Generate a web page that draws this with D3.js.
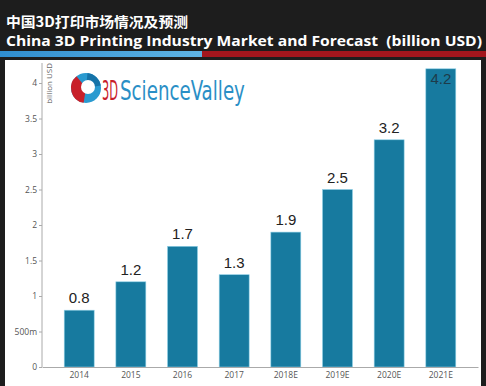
<!DOCTYPE html>
<html>
<head>
<meta charset="utf-8">
<script src="https://cdn.jsdelivr.net/npm/d3@7"></script>
<style>
  body { margin: 0; background: #1c1c1c; }
  svg { display: block; }
</style>
</head>
<body>
<div id="chart"></div>
<script>
// data
var years = ['2014', '2015', '2016', '2017', '2018E', '2019E', '2020E', '2021E']
var market = [0.8, 1.2, 1.7, 1.3, 1.9, 2.5, 3.2, 4.2]
var yTicks = [0, 0.5, 1, 1.5, 2, 2.5, 3, 3.5, 4]
var yTickLabels = ['0', '500m', '1', '1.5', '2', '2.5', '3', '3.5', '4']

var width = 486
var height = 386

var svg = d3.select('#chart')
  .append('svg')
  .attr('width', width)
  .attr('height', height)

// dark header + frame
svg.append('rect')
  .attr('width', width)
  .attr('height', height)
  .attr('fill', '#1d1d1d')

// stripe under title
var stripe = svg.append('defs').append('linearGradient')
  .attr('id', 'blueStripe')
stripe.append('stop').attr('offset', '0%').attr('stop-color', '#2f8ed0')
stripe.append('stop').attr('offset', '100%').attr('stop-color', '#5fb3e3')

svg.append('rect')
  .attr('x', 0).attr('y', 51)
  .attr('width', 202).attr('height', 6)
  .attr('fill', 'url(#blueStripe)')
svg.append('rect')
  .attr('x', 202).attr('y', 51)
  .attr('width', width - 202).attr('height', 6)
  .attr('fill', '#a3161d')

// white chart panel
svg.append('rect')
  .attr('x', 5).attr('y', 60)
  .attr('width', 476).attr('height', height - 60)
  .attr('fill', '#ffffff')

// titles
svg.append('text')
  .text('中国3D打印市场情况及预测')
  .attr('x', 6)
  .attr('y', 27)
  .attr('fill', '#ffffff')
  .attr('font-family', 'Noto Sans CJK SC')
  .attr('font-weight', 'bold')
  .attr('font-size', 14)
  .attr('textLength', 182)
  .attr('lengthAdjust', 'spacingAndGlyphs')

svg.append('text')
  .text('China 3D Printing Industry Market and Forecast  (billion USD)')
  .attr('x', 6)
  .attr('y', 46)
  .attr('fill', '#ffffff')
  .attr('font-family', 'Open Sans')
  .attr('font-weight', 'bold')
  .attr('font-size', 14)
  .attr('textLength', 476)
  .attr('lengthAdjust', 'spacingAndGlyphs')
  .style('white-space', 'pre')

// scales
var xPositionScale = d3.scaleBand()
  .domain(years)
  .range([42, 478])
  .paddingInner(0.42)
  .paddingOuter(0.43)

var yPositionScale = d3.scaleLinear()
  .domain([0, 4])
  .range([367, 83])

// logo
var logo = svg.append('g').attr('transform', 'translate(86, 88)')
logo.append('circle').attr('r', 15).attr('fill', '#2a9ad0')
logo.append('path')
  .attr('d', d3.arc().innerRadius(0).outerRadius(15).startAngle(3.3).endAngle(5.6)())
  .attr('fill', '#c8202a')
logo.append('path')
  .attr('d', d3.arc().innerRadius(0).outerRadius(15).startAngle(0.1).endAngle(1.4)())
  .attr('fill', '#1673a8')
logo.append('circle').attr('cx', 2).attr('cy', -1).attr('r', 7).attr('fill', '#ffffff')

// logo words, squeezed horizontally to the condensed look
function logoWord(word, x, w, color) {
  var g = svg.append('g')
  var t = g.append('text')
    .text(word)
    .attr('fill', color)
    .attr('font-family', 'DejaVu Sans Condensed')
    .attr('font-size', 26)
  var natural = t.node().getComputedTextLength()
  g.attr('transform', `translate(${x}, 100) scale(${w / natural}, 1)`)
}
logoWord('3D', 102, 16, '#c8202a')
logoWord('ScienceValley', 120, 125, '#2a8fc6')

// bars
svg.selectAll('.bar')
  .data(market)
  .enter()
  .append('rect')
  .attr('class', 'bar')
  .attr('x', (d, i) => xPositionScale(years[i]))
  .attr('y', d => yPositionScale(d))
  .attr('width', xPositionScale.bandwidth())
  .attr('height', d => yPositionScale(0) - yPositionScale(d))
  .attr('fill', '#177a9f')
  .attr('stroke', '#8fd0e6')
  .attr('stroke-width', 0.6)

// value labels
svg.selectAll('.value-label')
  .data(market)
  .enter()
  .append('text')
  .attr('class', 'value-label')
  .text(d => d)
  .attr('x', (d, i) => xPositionScale(years[i]) + xPositionScale.bandwidth() / 2)
  .attr('y', d => d > 4 ? yPositionScale(d) + 15 : yPositionScale(d) - 7)
  .attr('text-anchor', 'middle')
  .attr('font-family', 'Liberation Sans')
  .attr('font-size', 15)
  .attr('fill', d => d > 4 ? '#1d3b4a' : '#222222')

// axes
var yAxis = d3.axisLeft(yPositionScale)
  .tickValues(yTicks)
  .tickFormat((d, i) => yTickLabels[i])
  .tickSize(3)
  .tickPadding(2)

var yAxisG = svg.append('g')
  .attr('class', 'axis y-axis')
  .attr('transform', 'translate(42, 0)')
  .call(yAxis)
yAxisG.select('.domain').remove()
yAxisG.append('line')
  .attr('x1', 0).attr('x2', 0)
  .attr('y1', 63).attr('y2', 367)
  .attr('stroke', '#aaaaaa')

var xAxis = d3.axisBottom(xPositionScale).tickSize(0).tickPadding(5)
var xAxisG = svg.append('g')
  .attr('class', 'axis x-axis')
  .attr('transform', 'translate(0, 367)')
  .call(xAxis)
xAxisG.select('.domain').attr('stroke', '#aaaaaa')

svg.selectAll('.axis text')
  .attr('font-family', 'Open Sans')
  .attr('font-size', 8.5)
  .attr('fill', '#555555')
svg.selectAll('.axis .tick line').attr('stroke', '#aaaaaa')

// axis title
svg.append('text')
  .text('billion USD')
  .attr('transform', 'translate(52, 63) rotate(-90)')
  .attr('text-anchor', 'end')
  .attr('font-family', 'Open Sans')
  .attr('font-size', 8)
  .attr('fill', '#666666')
</script>
</body>
</html>
